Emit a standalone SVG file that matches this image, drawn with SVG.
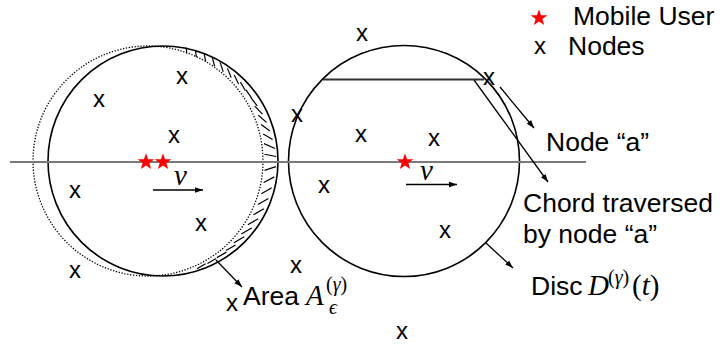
<svg xmlns="http://www.w3.org/2000/svg" width="720" height="345" viewBox="0 0 720 345">
<defs>
<style>
.lbl{font-family:"Liberation Sans",Arial,sans-serif;font-size:26.5px;fill:#000}
.nx{font-family:"Liberation Sans",Arial,sans-serif;font-size:24px;fill:#000;text-anchor:middle}
.m{font-family:"Liberation Serif","Times New Roman",serif;font-style:italic;fill:#000}
.mu{font-family:"Liberation Serif","Times New Roman",serif;fill:#000}
.circ{fill:none;stroke:#000;stroke-width:1.6}
.dot{fill:none;stroke:#000;stroke-width:1.3;stroke-dasharray:1.3 1.6}
.hatch line{stroke:#000;stroke-width:1.2}
.arr{stroke:#000;stroke-width:1.3;fill:none;marker-end:url(#ah)}
</style>
<marker id="ah" viewBox="0 0 10 10" refX="10" refY="5" markerWidth="8" markerHeight="8" markerUnits="userSpaceOnUse" orient="auto">
<path d="M0,1.5 L10,5 L0,8.5 Z" fill="#000"/>
</marker>
<path id="star" d="M0,-8 L1.88,-2.59 L7.61,-2.47 L3.04,0.99 L4.70,6.47 L0,3.2 L-4.70,6.47 L-3.04,0.99 L-7.61,-2.47 L-1.88,-2.59 Z" fill="#ff0000"/>
</defs>
<rect width="720" height="345" fill="#fff"/>

<g id="left-disc">
<circle class="dot" cx="148" cy="161" r="115"/>
<circle class="circ" cx="163" cy="161" r="115"/>
<g class="hatch">
<line transform="translate(163 161) rotate(-78) translate(113 0) rotate(165)" x1="-3" y1="0" x2="3" y2="0"/>
<line transform="translate(163 161) rotate(-73) translate(112.4 0) rotate(155)" x1="-3.5" y1="0" x2="3.5" y2="0"/>
<line transform="translate(163 161) rotate(-68) translate(111.8 0) rotate(146)" x1="-4" y1="0" x2="4" y2="0"/>
<line transform="translate(163 161) rotate(-63) translate(111.2 0) rotate(138)" x1="-4.5" y1="0" x2="4.5" y2="0"/>
<line transform="translate(163 161) rotate(-58) translate(110.7 0) rotate(130)" x1="-5" y1="0" x2="5" y2="0"/>
<line transform="translate(163 161) rotate(-53) translate(110.2 0) rotate(121)" x1="-5" y1="0" x2="5" y2="0"/>
<line transform="translate(163 161) rotate(-48) translate(109.7 0) rotate(112)" x1="-5" y1="0" x2="5" y2="0"/>
<line transform="translate(163 161) rotate(-43) translate(109.3 0) rotate(103)" x1="-5" y1="0" x2="5" y2="0"/>
<line transform="translate(163 161) rotate(-38) translate(108.9 0) rotate(94)" x1="-5" y1="0" x2="5" y2="0"/>
<line transform="translate(163 161) rotate(-33) translate(108.6 0) rotate(85)" x1="-5" y1="0" x2="5" y2="0"/>
<line transform="translate(163 161) rotate(-28) translate(108.3 0) rotate(75)" x1="-5.5" y1="0" x2="5.5" y2="0"/>
<line transform="translate(163 161) rotate(-23) translate(108 0) rotate(64)" x1="-5.5" y1="0" x2="5.5" y2="0"/>
<line transform="translate(163 161) rotate(-18) translate(107.8 0) rotate(54)" x1="-5.5" y1="0" x2="5.5" y2="0"/>
<line transform="translate(163 161) rotate(-13) translate(107.7 0) rotate(44)" x1="-5.5" y1="0" x2="5.5" y2="0"/>
<line transform="translate(163 161) rotate(-8) translate(107.6 0) rotate(32)" x1="-6" y1="0" x2="6" y2="0"/>
<line transform="translate(163 161) rotate(-3) translate(107.5 0) rotate(14)" x1="-6" y1="0" x2="6" y2="0"/>
<line transform="translate(163 161) rotate(4) translate(107.5 0) rotate(-22)" x1="-6" y1="0" x2="6" y2="0"/>
<line transform="translate(163 161) rotate(10) translate(107.6 0) rotate(-38)" x1="-6" y1="0" x2="6" y2="0"/>
<line transform="translate(163 161) rotate(16) translate(107.7 0) rotate(-46)" x1="-6" y1="0" x2="6" y2="0"/>
<line transform="translate(163 161) rotate(22) translate(108 0) rotate(-52)" x1="-6" y1="0" x2="6" y2="0"/>
<line transform="translate(163 161) rotate(28) translate(108.3 0) rotate(-58)" x1="-6" y1="0" x2="6" y2="0"/>
<line transform="translate(163 161) rotate(34) translate(108.6 0) rotate(-64)" x1="-6" y1="0" x2="6" y2="0"/>
<line transform="translate(163 161) rotate(40) translate(109.05 0) rotate(-70)" x1="-6" y1="0" x2="6" y2="0"/>
<line transform="translate(163 161) rotate(46) translate(109.5 0) rotate(-76)" x1="-6" y1="0" x2="6" y2="0"/>
<line transform="translate(163 161) rotate(52) translate(110.1 0) rotate(-82)" x1="-5.5" y1="0" x2="5.5" y2="0"/>
<line transform="translate(163 161) rotate(58) translate(110.7 0) rotate(-88)" x1="-5.5" y1="0" x2="5.5" y2="0"/>
<line transform="translate(163 161) rotate(64) translate(111.3 0) rotate(-94)" x1="-5" y1="0" x2="5" y2="0"/>
<line transform="translate(163 161) rotate(70) translate(112 0) rotate(-100)" x1="-5" y1="0" x2="5" y2="0"/>
</g>
</g>

<g id="right-disc">
<circle class="circ" cx="404" cy="161" r="115.5"/>
<line x1="323" y1="79.5" x2="484" y2="79.5" stroke="#333" stroke-width="2.2"/>
</g>

<g id="axis">
<line x1="10" y1="162" x2="586" y2="162" stroke="#7a7a7a" stroke-width="2"/>
</g>

<g id="mobile-users">
<use href="#star" transform="translate(146 162) scale(1.1)"/>
<use href="#star" transform="translate(163 162) scale(1.1)"/>
<use href="#star" transform="translate(405 162) scale(1.1)"/>
</g>

<g id="velocity">
<line class="arr" x1="153" y1="190" x2="203" y2="190"/>
<text class="m" x="174" y="185" font-size="29">v</text>
<line class="arr" x1="406" y1="184.5" x2="457" y2="184.5"/>
<text class="m" x="420" y="180" font-size="29">v</text>
</g>

<g id="nodes">
<text class="nx" x="99" y="107">x</text>
<text class="nx" x="182" y="84">x</text>
<text class="nx" x="174" y="143">x</text>
<text class="nx" x="75" y="198">x</text>
<text class="nx" x="201" y="231">x</text>
<text class="nx" x="75" y="278">x</text>
<text class="nx" x="297" y="122">x</text>
<text class="nx" x="361" y="142">x</text>
<text class="nx" x="434" y="146">x</text>
<text class="nx" x="324" y="193">x</text>
<text class="nx" x="445" y="238">x</text>
<text class="nx" x="296" y="273">x</text>
<text class="nx" x="362" y="41">x</text>
<text class="nx" x="402" y="339">x</text>
<text class="nx" x="232" y="311">x</text>
</g>

<g id="node-a">
<text class="nx" x="489" y="85">x</text>
</g>

<g id="connectors">
<line class="arr" x1="500" y1="87" x2="534" y2="128"/>
<line class="arr" x1="474" y1="80" x2="548" y2="182"/>
<line class="arr" x1="486" y1="243" x2="513" y2="268"/>
<line class="arr" x1="216" y1="260" x2="242" y2="287"/>
</g>

<g id="legend">
<use href="#star" transform="translate(539 18) scale(1.1)"/>
<text class="lbl" x="573" y="25">Mobile User</text>
<text class="nx" x="540" y="54">x</text>
<text class="lbl" x="568" y="55">Nodes</text>
</g>

<g id="labels">
<text class="lbl" x="531" y="295">Disc</text>
<text class="m" x="588" y="295" font-size="29">D</text>
<text class="mu" x="608" y="284" font-size="20">(<tspan class="m">γ</tspan>)</text>
<text class="mu" x="632" y="295" font-size="29">(<tspan class="m">t</tspan>)</text>
<text class="lbl" x="546" y="151">Node “a”</text>
<text class="lbl" x="523" y="212">Chord traversed</text>
<text class="lbl" x="523" y="243">by node “a”</text>
<text class="lbl" x="243" y="305">Area</text>
<text class="m" x="306" y="305" font-size="29">A</text>
<text class="mu" x="326" y="291" font-size="20">(<tspan class="m">γ</tspan>)</text>
<text class="m" x="329" y="314" font-size="20">ϵ</text>
</g>
</svg>
